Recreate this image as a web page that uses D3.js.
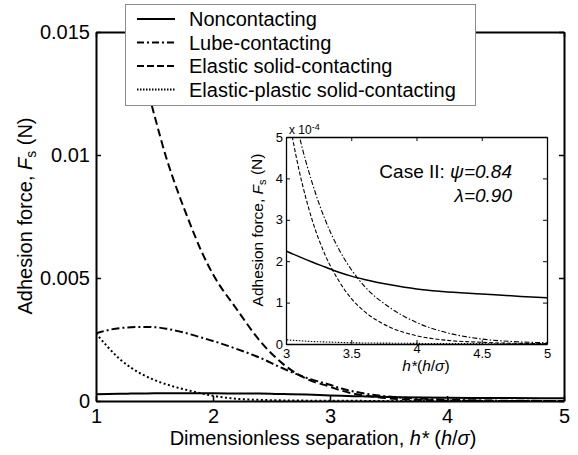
<!DOCTYPE html>
<html>
<head>
<meta charset="utf-8">
<script src="https://cdn.jsdelivr.net/npm/d3@7"></script>
<style>
  html, body { margin: 0; padding: 0; background: #fff; }
  svg { display: block; font-family: "Liberation Sans", Arial, sans-serif; }
</style>
</head>
<body>
<svg id="chart" width="578" height="455"></svg>
<script>
// Dimensionless separation h* = h/sigma
const hValues = [1.0, 1.1, 1.2, 1.3, 1.4, 1.5, 1.6, 1.7, 1.8, 1.9, 2.0, 2.2, 2.4, 2.6, 2.8,
                 3.0, 3.1, 3.2, 3.3, 3.4, 3.5, 3.6, 3.8, 4.0, 4.2, 4.5, 4.8, 5.0];

// Adhesion force F_s, in mN (x 1e-3 N)
const noncontacting = [0.27, 0.285, 0.295, 0.30, 0.305, 0.31, 0.31, 0.31, 0.31, 0.31, 0.31, 0.305, 0.30, 0.28, 0.26,
                       0.225, 0.211, 0.198, 0.186, 0.174, 0.164, 0.156, 0.143, 0.133, 0.127, 0.121, 0.115, 0.112];
const lubeContacting = [2.75, 2.88, 2.96, 3.0, 3.01, 3.0, 2.94, 2.84, 2.72, 2.58, 2.44, 2.12, 1.76, 1.32, 0.94,
                        0.66, 0.505, 0.39, 0.30, 0.232, 0.18, 0.14, 0.087, 0.052, 0.03, 0.012, 0.005, 0.003];
const elasticSolid = [21.0, 19.0, 17.0, 15.2, 13.4, 11.6, 9.9, 8.5, 7.25, 6.1, 5.15, 3.75, 2.45, 1.5, 0.9,
                      0.58, 0.42, 0.30, 0.215, 0.155, 0.11, 0.079, 0.04, 0.02, 0.01, 0.004, 0.0015, 0.0008];
const elasticPlastic = [2.75, 2.2, 1.72, 1.35, 1.07, 0.85, 0.68, 0.54, 0.42, 0.31, 0.21, 0.09, 0.045, 0.025, 0.015,
                        0.01, 0.008, 0.006, 0.005, 0.004, 0.003, 0.0025, 0.002, 0.0015, 0.001, 0.0008, 0.0005, 0.0004];

const seriesNames = ["Noncontacting", "Lube-contacting", "Elastic solid-contacting", "Elastic-plastic solid-contacting"];

const mainXTicks = [1, 2, 3, 4, 5];
const mainYTicks = [0, 0.005, 0.01, 0.015];
const insetXTicks = [3, 3.5, 4, 4.5, 5];
const insetYTicks = [0, 1, 2, 3, 4, 5];   // x 10^-4 N

const seriesValues = [noncontacting, lubeContacting, elasticSolid, elasticPlastic];
const series = seriesNames.map((name, i) => ({
  name,
  points: hValues.map((h, j) => ({ h, f: seriesValues[i][j] * 1e-3 }))
}));

const mainDash = ["none", "8,3,2,3", "8,4", "2,2.5"];
const insetDash = ["none", "5,2,1.5,2", "4,2", "1.5,1.5"];

const svg = d3.select("#chart");
const FONT = 20;

// ---------- main axes ----------
const x = d3.scaleLinear().domain([1, 5]).range([96, 564]);
const y = d3.scaleLinear().domain([0, 0.015]).range([401, 32]);

svg.append("defs").append("clipPath").attr("id", "mainClip")
  .append("rect").attr("x", 96).attr("y", 32).attr("width", 468).attr("height", 369);

const mainLine = d3.line().x(d => x(d.h)).y(d => y(d.f)).curve(d3.curveMonotoneX);

const curves = svg.append("g").attr("clip-path", "url(#mainClip)");
series.forEach((s, i) => {
  curves.append("path")
    .attr("d", mainLine(s.points))
    .attr("fill", "none")
    .attr("stroke", "#000")
    .attr("stroke-width", 2)
    .attr("stroke-dasharray", mainDash[i]);
});

function styleAxis(g, width) {
  g.select(".domain").attr("stroke-width", width);
  g.selectAll(".tick line").attr("stroke-width", width * 0.75);
  g.selectAll(".tick text").attr("fill", "#000");
}

const yFmt = d => d === 0 ? "0" : String(+d.toFixed(3));

svg.append("g").attr("transform", "translate(0,401)")
  .call(d3.axisBottom(x).tickValues(mainXTicks).tickSize(-5).tickSizeOuter(0).tickPadding(8).tickFormat(d3.format("d")))
  .attr("font-size", FONT).attr("font-family", null)
  .call(g => styleAxis(g, 2));
svg.append("g").attr("transform", "translate(0,32)")
  .call(d3.axisTop(x).tickValues(mainXTicks).tickSize(-5).tickSizeOuter(0).tickFormat(""))
  .call(g => styleAxis(g, 2));
svg.append("g").attr("transform", "translate(96,0)")
  .call(d3.axisLeft(y).tickValues(mainYTicks).tickSize(-5).tickSizeOuter(0).tickPadding(6).tickFormat(yFmt))
  .attr("font-size", FONT).attr("font-family", null)
  .call(g => styleAxis(g, 2));
svg.append("g").attr("transform", "translate(564,0)")
  .call(d3.axisRight(y).tickValues(mainYTicks).tickSize(-5).tickSizeOuter(0).tickFormat(""))
  .call(g => styleAxis(g, 2));

// axis titles
const xt = svg.append("text").attr("x", 323).attr("y", 445)
  .attr("text-anchor", "middle").attr("font-size", FONT);
xt.append("tspan").text("Dimensionless separation, ");
xt.append("tspan").attr("font-style", "italic").text("h*");
xt.append("tspan").text(" (");
xt.append("tspan").attr("font-style", "italic").text("h");
xt.append("tspan").text("/");
xt.append("tspan").attr("font-style", "italic").text("σ");
xt.append("tspan").text(")");

const yt = svg.append("text").attr("transform", "translate(32,216) rotate(-90)")
  .attr("text-anchor", "middle").attr("font-size", FONT);
yt.append("tspan").text("Adhesion force, ");
yt.append("tspan").attr("font-style", "italic").text("F");
yt.append("tspan").attr("dy", "0.3em").attr("font-size", FONT * 0.7).text("s");
yt.append("tspan").attr("dy", "-0.21em").text(" (N)");

// ---------- inset ----------
const ix = d3.scaleLinear().domain([3, 5]).range([286, 547]);
const iy = d3.scaleLinear().domain([0, 5]).range([344, 137]);
const IFONT = 13;

svg.append("rect").attr("x", 286).attr("y", 137).attr("width", 261).attr("height", 207)
  .attr("fill", "#fff");

svg.append("defs").append("clipPath").attr("id", "insetClip")
  .append("rect").attr("x", 286).attr("y", 137).attr("width", 261).attr("height", 207);

const insetLine = d3.line()
  .x(d => ix(d.h)).y(d => iy(d.f * 1e4)).curve(d3.curveMonotoneX);

const icurves = svg.append("g").attr("clip-path", "url(#insetClip)");
series.forEach((s, i) => {
  icurves.append("path")
    .attr("d", insetLine(s.points.filter(p => p.h >= 2.8)))
    .attr("fill", "none")
    .attr("stroke", "#000")
    .attr("stroke-width", i === 0 ? 1.5 : 1.1)
    .attr("stroke-dasharray", insetDash[i]);
});

svg.append("g").attr("transform", "translate(0,344)")
  .call(d3.axisBottom(ix).tickValues(insetXTicks).tickSize(-4).tickSizeOuter(0).tickPadding(5).tickFormat(d => String(d)))
  .attr("font-size", IFONT).attr("font-family", null)
  .call(g => styleAxis(g, 1.3))
  // the middle label sits a little higher, above the axis title
  .call(g => g.selectAll(".tick text").filter(d => d === 4).attr("y", 0));
svg.append("g").attr("transform", "translate(0,137)")
  .call(d3.axisTop(ix).tickValues(insetXTicks).tickSize(-4).tickSizeOuter(0).tickFormat(""))
  .call(g => styleAxis(g, 1.3));
svg.append("g").attr("transform", "translate(286,0)")
  .call(d3.axisLeft(iy).tickValues(insetYTicks).tickSize(-4).tickSizeOuter(0).tickPadding(3).tickFormat(d3.format("d")))
  .attr("font-size", IFONT).attr("font-family", null)
  .call(g => styleAxis(g, 1.3));
svg.append("g").attr("transform", "translate(547,0)")
  .call(d3.axisRight(iy).tickValues(insetYTicks).tickSize(-4).tickSizeOuter(0).tickFormat(""))
  .call(g => styleAxis(g, 1.3));

// exponent marker
const ex = svg.append("text").attr("x", 289).attr("y", 134).attr("font-size", 12);
ex.append("tspan").text("x 10");
ex.append("tspan").attr("dy", "-0.5em").attr("font-size", 9).text("-4");

// inset axis titles
const ixt = svg.append("text").attr("x", 426).attr("y", 371)
  .attr("text-anchor", "middle").attr("font-size", 15.5);
ixt.append("tspan").attr("font-style", "italic").text("h*");
ixt.append("tspan").text("(");
ixt.append("tspan").attr("font-style", "italic").text("h");
ixt.append("tspan").text("/");
ixt.append("tspan").attr("font-style", "italic").text("σ");
ixt.append("tspan").text(")");

const iyt = svg.append("text").attr("transform", "translate(263,230) rotate(-90)")
  .attr("text-anchor", "middle").attr("font-size", 15.5);
iyt.append("tspan").text("Adhesion force, ");
iyt.append("tspan").attr("font-style", "italic").text("F");
iyt.append("tspan").attr("dy", "0.3em").attr("font-size", 11).text("s");
iyt.append("tspan").attr("dy", "-0.3em").text(" (N)");

// case annotation
const c1 = svg.append("text").attr("x", 512).attr("y", 178)
  .attr("text-anchor", "end").attr("font-size", 19);
c1.append("tspan").text("Case II:  ");
c1.append("tspan").attr("font-style", "italic").text("ψ=0.84");
svg.append("text").attr("x", 512).attr("y", 202)
  .attr("text-anchor", "end").attr("font-size", 19).attr("font-style", "italic")
  .text("λ=0.90");

// ---------- legend ----------
const legend = svg.append("g");
legend.append("rect").attr("x", 125.5).attr("y", 4.5).attr("width", 350).attr("height", 101)
  .attr("fill", "#fff").attr("stroke", "#8c8c8c").attr("stroke-width", 1);
seriesNames.forEach((name, i) => {
  const yy = 26 + i * 23.5;
  legend.append("line").attr("x1", 137).attr("x2", 175).attr("y1", yy - 7).attr("y2", yy - 7)
    .attr("stroke", "#000").attr("stroke-width", 2)
    .attr("stroke-dasharray", i === 1 ? "7,3,2,3" : i === 2 ? "7,3" : i === 3 ? "1.5,1.5" : "none");
  legend.append("text").attr("x", 189).attr("y", yy).attr("font-size", FONT).text(name);
});
</script>
</body>
</html>
